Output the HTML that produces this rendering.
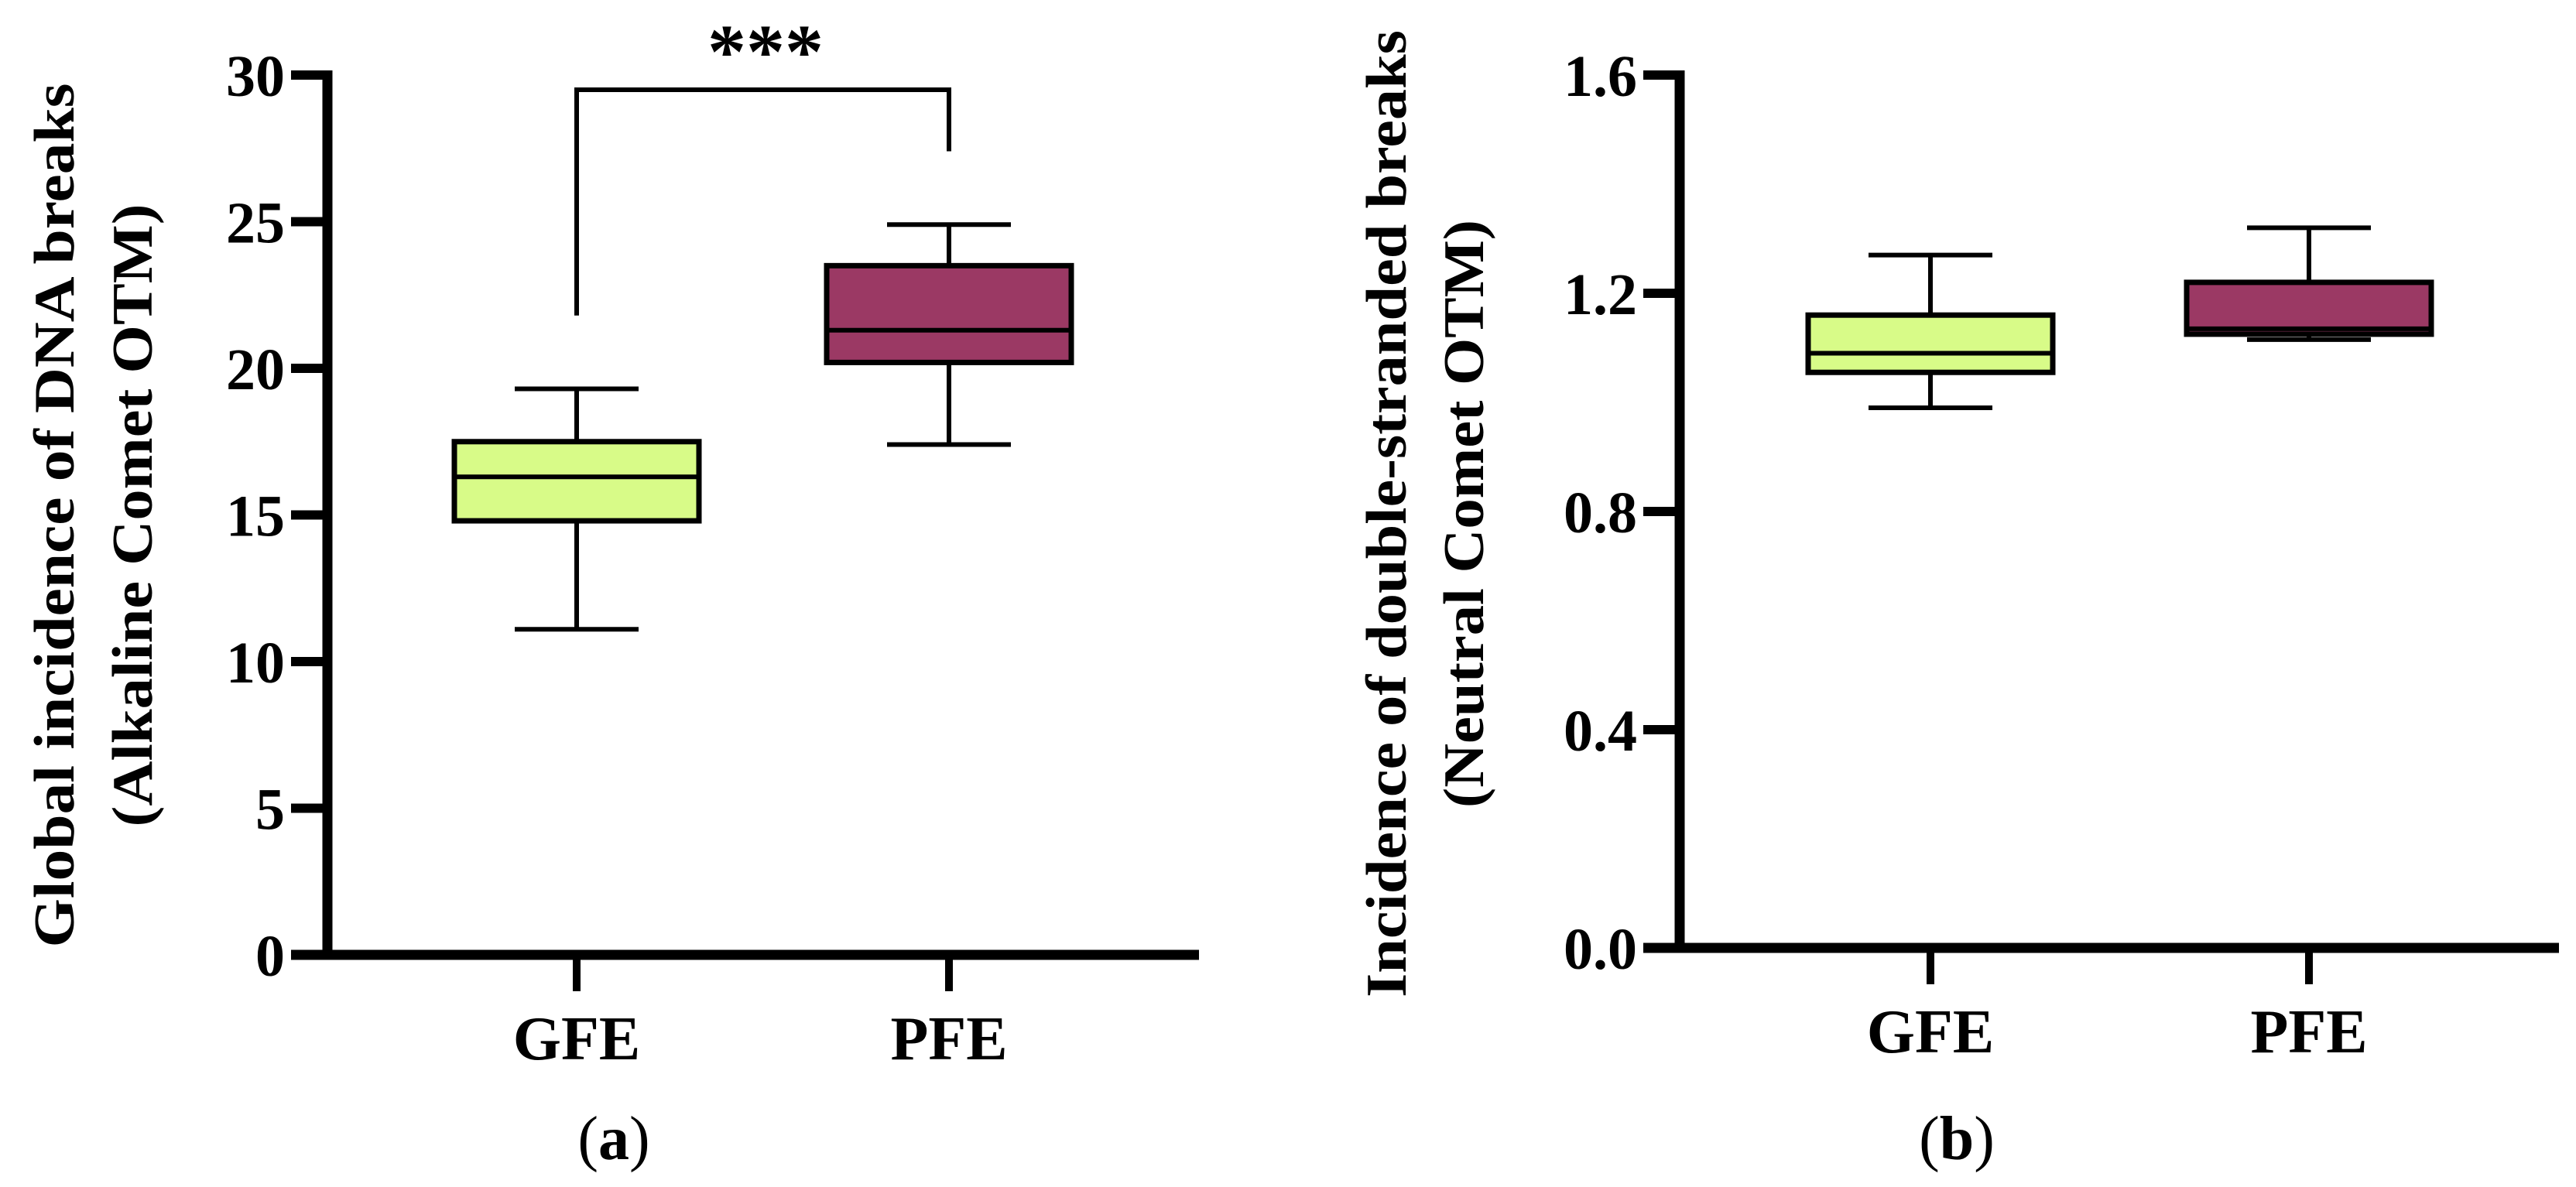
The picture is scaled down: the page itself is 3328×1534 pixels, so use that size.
<!DOCTYPE html>
<html><head><meta charset="utf-8"><style>
html,body{margin:0;padding:0;background:#fff}
svg{display:block}
text{font-family:"Liberation Serif",serif;font-weight:bold;fill:#000}
</style></head><body>
<svg id="fig" width="3328" height="1534" viewBox="0 0 3328 1534"></svg>
<script>
// Panel a data
const catsA = ["GFE","PFE"];
const minA = [11.1, 17.4];
const q1A = [14.8, 20.2];
const medA = [16.3, 21.3];
const q3A = [17.5, 23.5];
const maxA = [19.3, 24.9];
const ticksA = [0,5,10,15,20,25,30];
const tickLabelsA = ["0","5","10","15","20","25","30"];
// Panel b data
const catsB = ["GFE","PFE"];
const minB = [0.99, 1.115];
const q1B = [1.055, 1.125];
const medB = [1.09, 1.135];
const q3B = [1.16, 1.22];
const maxB = [1.27, 1.32];
const ticksB = [0,0.4,0.8,1.2,1.6];
const tickLabelsB = ["0.0","0.4","0.8","1.2","1.6"];
const colors = ["#d8fb88","#9b3964"];

const NS="http://www.w3.org/2000/svg";
const svg=document.getElementById('fig');
function mk(tag,attrs,parent){const e=document.createElementNS(NS,tag);for(const k in attrs)e.setAttribute(k,attrs[k]);(parent||svg).appendChild(e);return e;}

function panel(cfg){
  const g=mk('g',{});
  
  
  const y=v=>cfg.y0-(v-cfg.vmin)/(cfg.vmax-cfg.vmin)*(cfg.y0-cfg.y1);
  const x=i=>cfg.xc[i];
  const ya=mk('line',{x1:cfg.ax,y1:y(cfg.vmax)-6,x2:cfg.ax,y2:cfg.y0+6,stroke:'#000','stroke-width':13},g);
  
  
  const xa=mk('line',{x1:cfg.tickL,y1:cfg.y0,x2:cfg.xEnd,y2:cfg.y0,stroke:'#000','stroke-width':13},g);
  
  
  cfg.ticks.forEach((t,i)=>{
    const l=mk('line',{x1:cfg.tickL,y1:y(t),x2:cfg.ax,y2:y(t),stroke:'#000','stroke-width':12},g);
    
    
    const tx=mk('text',{x:cfg.tickL-8,y:y(t)+27,'text-anchor':'end','font-size':76},g);
    tx.textContent=cfg.tickLabels[i];
    
    
  });
  cfg.cats.forEach((c,i)=>{
    const l=mk('line',{x1:x(i),y1:cfg.y0,x2:x(i),y2:cfg.y0+47,stroke:'#000','stroke-width':10},g);
    
    
    const tx=mk('text',{x:x(i),y:cfg.y0+135,'text-anchor':'middle','font-size':80},g);
    tx.textContent=c;
    
    
    const bw=316, cw=160;
    const wl=mk('line',{x1:x(i),y1:y(cfg.max[i]),x2:x(i),y2:y(cfg.min[i]),stroke:'#000','stroke-width':6},g);
    
    
    [cfg.max[i],cfg.min[i]].forEach(v=>{
      const cap=mk('line',{x1:x(i)-cw/2,y1:y(v),x2:x(i)+cw/2,y2:y(v),stroke:'#000','stroke-width':6},g);
      
      
    });
    const r=mk('rect',{x:x(i)-bw/2,y:y(cfg.q3[i]),width:bw,height:y(cfg.q1[i])-y(cfg.q3[i]),fill:colors[i],stroke:'#000','stroke-width':7},g);
    
    
    const m=mk('line',{x1:x(i)-bw/2,y1:y(cfg.med[i]),x2:x(i)+bw/2,y2:y(cfg.med[i]),stroke:'#000','stroke-width':6},g);
    
    
  });
  cfg.titles.forEach((t,i)=>{
    const tx=mk('text',{x:0,y:0,'text-anchor':'middle','font-size':74,transform:`translate(${t.x},${t.y}) rotate(-90)`,textLength:t.len,lengthAdjust:'spacingAndGlyphs'},g);
    tx.textContent=t.s;
    
    
  });
  const lab=mk('text',{x:cfg.lab[0],y:cfg.lab[1],'text-anchor':'middle','font-size':80,style:'font-weight:normal'},g);
  lab.innerHTML=cfg.labHtml;
  
  
  return {g,y,x};
}

const A=panel({name:'panel-a',ax:423,y0:1234,y1:97,vmin:0,vmax:30,tickL:376,xEnd:1549,xc:[745,1226],
  cats:catsA,min:minA,q1:q1A,med:medA,q3:q3A,max:maxA,ticks:ticksA,tickLabels:tickLabelsA,
  titles:[{s:'Global incidence of DNA breaks',x:95,y:666,len:1117},{s:'(Alkaline Comet OTM)',x:196,y:666,len:805}],
  lab:[793,1498],labHtml:'(<tspan style="font-weight:bold">a</tspan>)'});
const br=mk('path',{d:`M745 ${A.y(21.8)} V116 H1226 V${A.y(27.4)}`,fill:'none',stroke:'#000','stroke-width':6},A.g);


const st=mk('text',{x:989,y:100,'text-anchor':'middle','font-size':100,'font-family':'Liberation Sans'},A.g);
st.textContent='***';



panel({name:'panel-b',ax:2170,y0:1225,y1:97,vmin:0,vmax:1.6,tickL:2123,xEnd:3306,xc:[2494,2983],
  cats:catsB,min:minB,q1:q1B,med:medB,q3:q3B,max:maxB,ticks:ticksB,tickLabels:tickLabelsB,
  titles:[{s:'Incidence of double-stranded breaks',x:1816,y:664,len:1250},{s:'(Neutral Comet OTM)',x:1916,y:664,len:760}],
  lab:[2528,1498],labHtml:'(<tspan style="font-weight:bold">b</tspan>)'});
</script>
</body></html>
